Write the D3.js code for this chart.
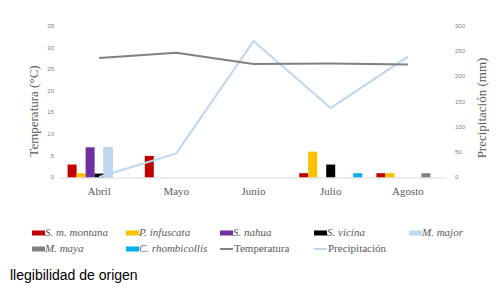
<!DOCTYPE html>
<html>
<head>
<meta charset="utf-8">
<script src="https://cdn.jsdelivr.net/npm/d3@7"></script>
<style>
  body { margin: 0; background: #fff; }
  svg { display: block; }
</style>
</head>
<body>
<div id="container"></div>
<script>
// data
const months = ["Abril", "Mayo", "Junio", "Julio", "Agosto"];
const species = ["S. m. montana", "P. infuscata", "S. nahua", "S. vicina", "M. major", "M. maya", "C. rhombicollis"];
const smMontana = [3, 5, 0, 1, 1];
const pInfuscata = [1, 0, 0, 6, 1];
const sNahua = [7, 0, 0, 0, 0];
const sVicina = [0.9, 0, 0, 3, 0];
const mMajor = [7, 0, 0, 0, 0];
const mMaya = [0, 0, 0, 0, 1];
const cRhombicollis = [0, 0, 0, 1, 0];
const temperatura = [27.7, 28.9, 26.3, 26.4, 26.2];
const precipitacion = [1, 48, 271, 138, 240];
const tempTicks = [0, 5, 10, 15, 20, 25, 30, 35];
const precTicks = [0, 50, 100, 150, 200, 250, 300];

const seriesValues = [smMontana, pInfuscata, sNahua, sVicina, mMajor, mMaya, cRhombicollis];
const colors = ["#c00000", "#ffc000", "#7030a0", "#000000", "#bdd7ee", "#808080", "#00b0f0"];

const width = 499;
const height = 290;

const svg = d3.select("#container").append("svg")
    .attr("width", width)
    .attr("height", height);

const x = d3.scaleBand().domain(months).range([60.5, 446.5]);
const xInner = d3.scaleBand().domain(species).range([-31.5, 31.5]);
const yTemp = d3.scaleLinear().domain([0, 35]).range([177.5, 26.5]);
const yPrec = d3.scaleLinear().domain([0, 300]).range([177.5, 26.5]);

// left axis ticks
svg.append("g")
    .selectAll("text")
    .data(tempTicks)
    .join("text")
    .attr("x", 54)
    .attr("y", d => yTemp(d))
    .attr("text-anchor", "end")
    .attr("dominant-baseline", "middle")
    .attr("font-family", "Liberation Sans, Arial, sans-serif")
    .attr("font-size", "6px")
    .attr("fill", "#7f7f7f")
    .text(d => d);

// right axis ticks
svg.append("g")
    .selectAll("text")
    .data(precTicks)
    .join("text")
    .attr("x", 455)
    .attr("y", d => yPrec(d))
    .attr("text-anchor", "start")
    .attr("dominant-baseline", "middle")
    .attr("font-family", "Liberation Sans, Arial, sans-serif")
    .attr("font-size", "6px")
    .attr("fill", "#7f7f7f")
    .text(d => d);

// bars
const rows = [];
months.forEach((m, i) => {
    species.forEach((s, j) => {
        rows.push({ month: m, sp: s, value: seriesValues[j][i], color: colors[j] });
    });
});

svg.append("g")
    .selectAll("rect")
    .data(rows.filter(d => d.value > 0))
    .join("rect")
    .attr("x", d => x(d.month) + x.bandwidth() / 2 + xInner(d.sp))
    .attr("y", d => yTemp(d.value))
    .attr("width", xInner.bandwidth())
    .attr("height", d => yTemp(0) - yTemp(d.value))
    .attr("fill", d => d.color)
    .attr("stroke", d => d.sp === "M. major" ? "#a6a6a6" : "none")
    .attr("stroke-width", 0.6)
    .attr("stroke-dasharray", "1,1");

// baseline
svg.append("line")
    .attr("x1", x.range()[0])
    .attr("x2", x.range()[1])
    .attr("y1", yTemp(0) + 0.5)
    .attr("y2", yTemp(0) + 0.5)
    .attr("stroke", "#d9d9d9")
    .attr("stroke-width", 1);

// lines
const cx = m => x(m) + x.bandwidth() / 2;

svg.append("path")
    .datum(precipitacion)
    .attr("fill", "none")
    .attr("stroke", "#bdd7ee")
    .attr("stroke-width", 2)
    .attr("d", d3.line().x((d, i) => cx(months[i])).y(d => yPrec(d)));

svg.append("path")
    .datum(temperatura)
    .attr("fill", "none")
    .attr("stroke", "#808080")
    .attr("stroke-width", 2)
    .attr("d", d3.line().x((d, i) => cx(months[i])).y(d => yTemp(d)));

// month labels
svg.append("g")
    .selectAll("text")
    .data(months)
    .join("text")
    .attr("x", d => cx(d))
    .attr("y", 195)
    .attr("text-anchor", "middle")
    .attr("font-family", "Liberation Serif, Times New Roman, serif")
    .attr("font-size", "11px")
    .attr("fill", "#595959")
    .text(d => d);

// axis titles
svg.append("text")
    .attr("transform", "translate(38,111) rotate(-90)")
    .attr("text-anchor", "middle")
    .attr("font-family", "Liberation Serif, Times New Roman, serif")
    .attr("font-size", "13px")
    .attr("fill", "#595959")
    .text("Temperatura (°C)");

svg.append("text")
    .attr("transform", "translate(486,108) rotate(-90)")
    .attr("text-anchor", "middle")
    .attr("font-family", "Liberation Serif, Times New Roman, serif")
    .attr("font-size", "13px")
    .attr("fill", "#595959")
    .text("Precipitación (mm)");

// legend
const legendItems = species.map((s, j) => ({ name: s, color: colors[j], type: "rect" }))
    .concat([
        { name: "Temperatura", color: "#808080", type: "line" },
        { name: "Precipitación", color: "#bdd7ee", type: "line" }
    ]);
const legendX = [32, 126, 220, 314, 409];
const legendY = [233, 249];

const leg = svg.append("g")
    .selectAll("g")
    .data(legendItems)
    .join("g")
    .attr("transform", (d, i) => `translate(${legendX[i % 5]},${legendY[Math.floor(i / 5)]})`);

leg.filter(d => d.type === "rect")
    .append("rect")
    .attr("x", 0)
    .attr("y", -2.5)
    .attr("width", 13)
    .attr("height", 5)
    .attr("fill", d => d.color);

leg.filter(d => d.type === "line")
    .append("line")
    .attr("x1", 0)
    .attr("x2", 13)
    .attr("y1", 0)
    .attr("y2", 0)
    .attr("stroke", d => d.color)
    .attr("stroke-width", 2);

leg.append("text")
    .attr("x", d => d.type === "rect" ? 13 : 14)
    .attr("y", 0)
    .attr("dominant-baseline", "middle")
    .attr("font-family", "Liberation Serif, Times New Roman, serif")
    .attr("font-size", "11px")
    .attr("font-style", d => d.type === "rect" ? "italic" : "normal")
    .attr("fill", "#595959")
    .text(d => d.name);

// caption
svg.append("text")
    .attr("x", 10)
    .attr("y", 280)
    .attr("font-family", "Liberation Sans, Arial, sans-serif")
    .attr("font-size", "14px")
    .attr("fill", "#000")
    .text("llegibilidad de origen");
</script>
</body>
</html>
